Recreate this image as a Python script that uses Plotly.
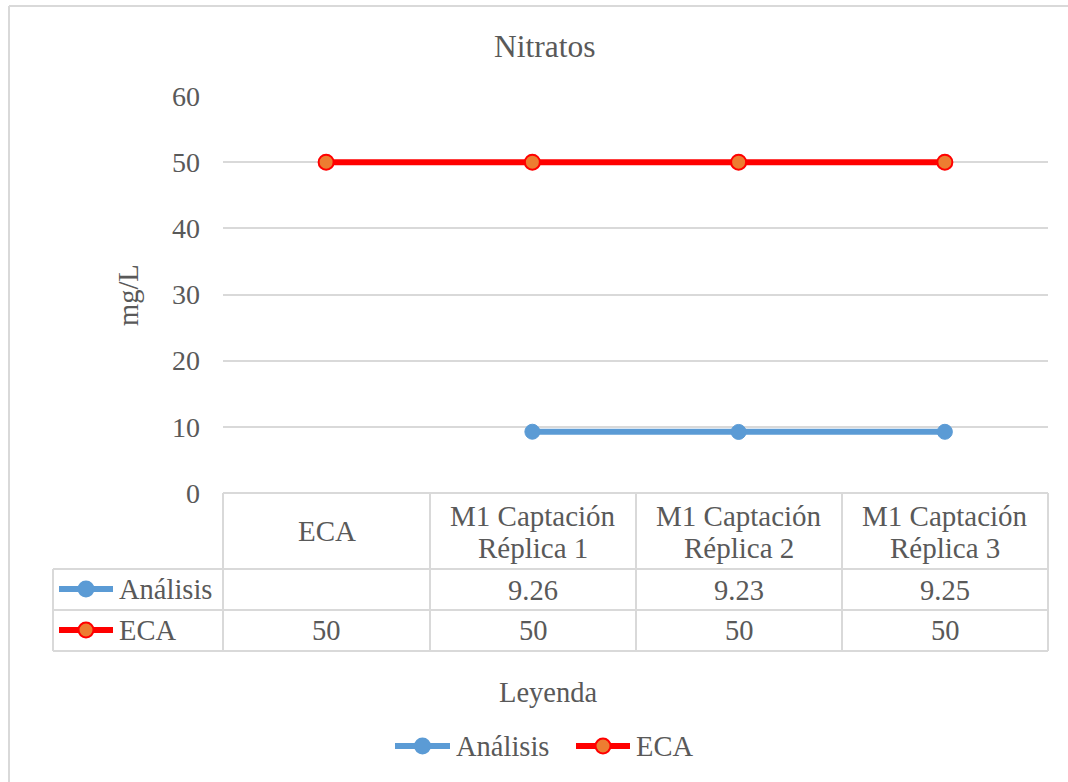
import plotly.graph_objects as go

categories = ["ECA", "M1 Captación<br>Réplica 1", "M1 Captación<br>Réplica 2", "M1 Captación<br>Réplica 3"]
series_names = ["Análisis", "ECA"]
analisis = [None, 9.26, 9.23, 9.25]
eca = [50, 50, 50, 50]
y_ticks = [0, 10, 20, 30, 40, 50, 60]

W, H = 1068, 782
def px(x): return x / W
def py(y): return 1 - y / H

FONT = "Liberation Serif"
TXT = "#595959"
GRID = "#d9d9d9"
BLUE = "#5b9bd5"
RED = "#ff0000"
ORANGE = "#ed7d31"

x_idx = list(range(len(categories)))

fig = go.Figure()
fig.add_trace(go.Scatter(
    x=x_idx, y=analisis, name=series_names[0], mode="lines+markers",
    line=dict(color=BLUE, width=6), connectgaps=False, showlegend=False,
    marker=dict(symbol="circle", size=15, color=BLUE, line=dict(color=BLUE, width=1)),
))
fig.add_trace(go.Scatter(
    x=x_idx, y=eca, name=series_names[1], mode="lines+markers",
    line=dict(color=RED, width=6), showlegend=False,
    marker=dict(symbol="circle", size=15, color=ORANGE, line=dict(color=RED, width=2)),
))

# plot area
L, R, T, B = 223, 1048, 96, 493
fig.update_layout(
    width=W, height=H, margin=dict(l=0, r=0, t=0, b=0, autoexpand=False),
    paper_bgcolor="white", plot_bgcolor="white",
    font=dict(family=FONT, color=TXT, size=28),
    showlegend=False,
    xaxis=dict(domain=[px(L), px(R)], range=[-0.5, len(categories) - 0.5], automargin=False,
               showgrid=False, zeroline=False, showticklabels=False, showline=False, fixedrange=True),
    yaxis=dict(domain=[py(B), py(T)], range=[0, 60], tickvals=y_ticks, automargin=False,
               showgrid=True, gridcolor=GRID, gridwidth=1.5, zeroline=False, showline=False,
               ticks="", ticklabelstandoff=22, tickfont=dict(family=FONT, size=28, color=TXT),
               fixedrange=True),
)

shapes = []
def line(x0, y0, x1, y1, color=GRID, width=2):
    shapes.append(dict(type="line", xref="paper", yref="paper",
                       x0=px(x0), y0=py(y0), x1=px(x1), y1=py(y1),
                       line=dict(color=color, width=width)))

# outer chart border
line(9, 6, 1068, 6)
line(9, 6, 9, 782)

# data table
col_edges = [223, 430, 636, 842, 1048]
row_hdr_bottom, row1_bottom, row2_bottom = 569, 610, 651
line(223, 493, 1048, 493)
for xe in col_edges:
    line(xe, 493, xe, row2_bottom)
line(53, row_hdr_bottom, 53, row2_bottom)
for yy in (row_hdr_bottom, row1_bottom, row2_bottom):
    line(53, yy, 1048, yy)

annotations = []
def text(x, y, s, size=28, xanchor="center", angle=0):
    annotations.append(dict(x=px(x), y=py(y), xref="paper", yref="paper", text=s,
                            showarrow=False, xanchor=xanchor, yanchor="middle", textangle=angle,
                            font=dict(family=FONT, size=size, color=TXT)))

centers = [(col_edges[i] + col_edges[i + 1]) / 2 for i in range(len(categories))]
for c, cat in zip(centers, categories):
    parts = cat.split("<br>")
    if len(parts) == 1:
        text(c, 531, parts[0], size=29)
    else:
        text(c, 516, parts[0], size=29)
        text(c, 548, parts[1], size=29)
for c, v in zip(centers, analisis):
    if v is not None:
        text(c, 590, f"{v:.2f}", size=28.5)
for c, v in zip(centers, eca):
    text(c, 630, f"{v:g}", size=28.5)

# legend keys (table rows and bottom legend)
def key(x0, x1, y, lc, fc, oc):
    line(x0, y, x1, y, color=lc, width=6)
    shapes.append(dict(type="circle", xref="paper", yref="paper", xsizemode="pixel", ysizemode="pixel",
                       xanchor=px((x0 + x1) / 2), yanchor=py(y), x0=-7.5, x1=7.5, y0=-7.5, y1=7.5,
                       fillcolor=fc, line=dict(color=oc, width=2)))
key(59, 113, 589, BLUE, BLUE, BLUE)
key(59, 113, 630, RED, ORANGE, RED)
text(117, 589, series_names[0], size=28.5, xanchor="left")
text(117, 630, series_names[1], size=28.5, xanchor="left")

key(395, 450, 746, BLUE, BLUE, BLUE)
text(454, 746, series_names[0], size=28.5, xanchor="left")
key(576, 630, 746, RED, ORANGE, RED)
text(634, 746, series_names[1], size=28.5, xanchor="left")

# titles
text(544, 47, "Nitratos", size=31.5)
text(128, 295, "mg/L", size=28.5, angle=-90)
text(548, 692, "Leyenda", size=28.5)

fig.update_layout(shapes=shapes, annotations=annotations)
fig.write_html("out.html")
